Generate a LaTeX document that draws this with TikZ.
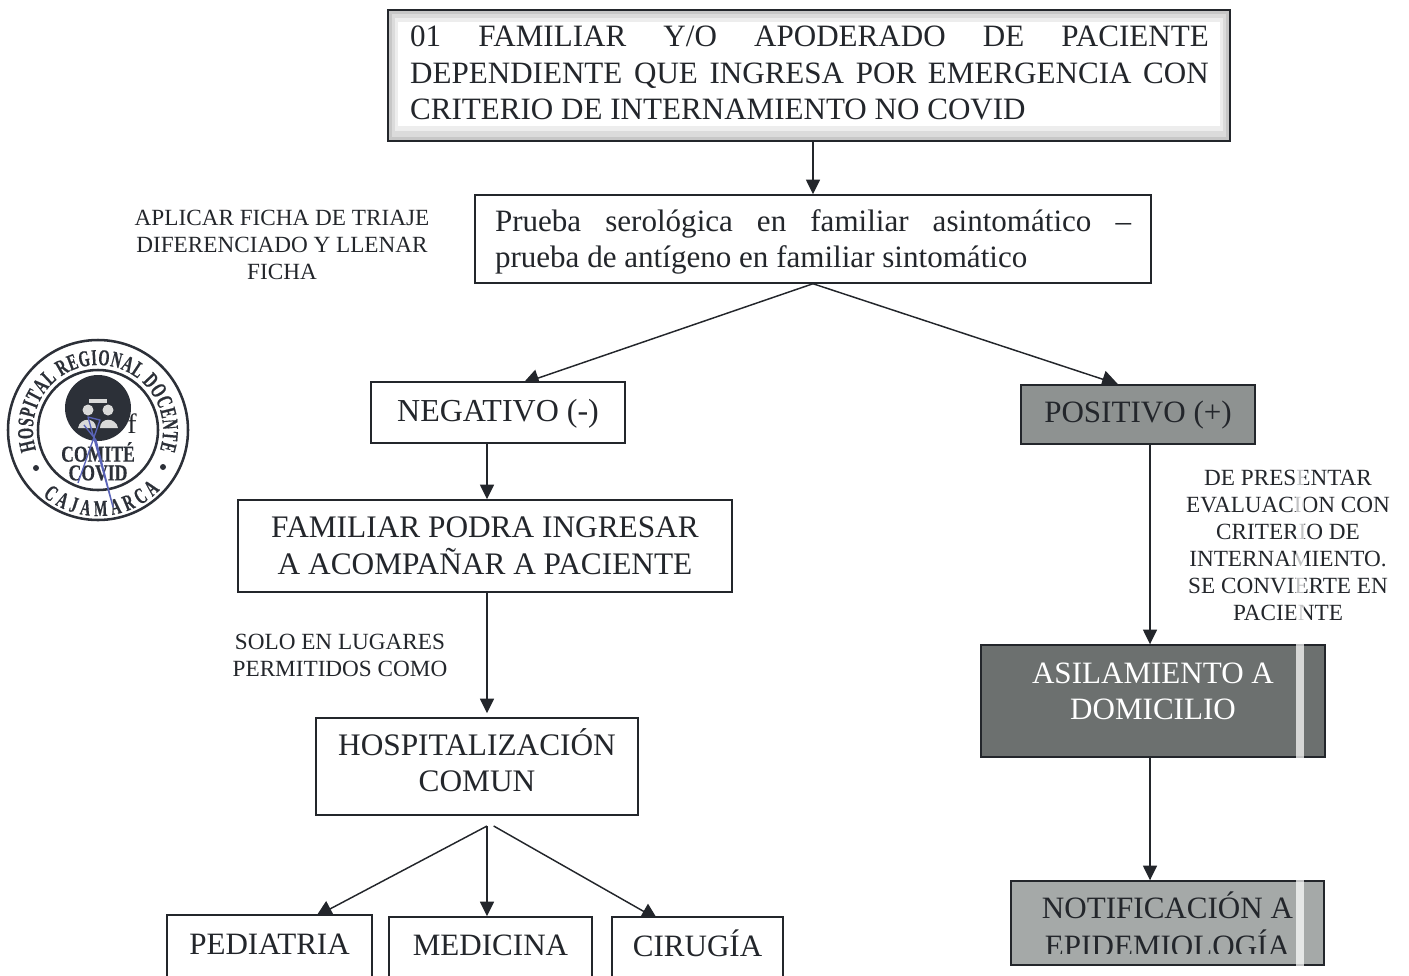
\documentclass[tikz,border=0pt]{standalone}
\usepackage{fontspec}
\setmainfont{Liberation Serif}
\newfontfamily\stampfont[FakeStretch=0.63,FakeBold=0.5]{Liberation Serif Bold}
\newfontfamily\stampwide[FakeStretch=0.78,FakeBold=0.3]{Liberation Serif Bold}
\usetikzlibrary{arrows.meta,backgrounds,decorations.text}
\definecolor{ink}{HTML}{23262B}
\definecolor{gposi}{HTML}{8E9291}
\definecolor{gasil}{HTML}{6C706F}
\definecolor{gnoti}{HTML}{A5A9A8}
\definecolor{stampink}{HTML}{2C3038}
\definecolor{scrib}{HTML}{5A64B8}
\tikzset{
  x=0.75pt,y=-0.75pt,
  box/.style={draw=ink,line width=1.1pt,fill=white,text=ink,inner sep=0pt,align=center,font=\fontsize{23.3}{27}\selectfont},
  note/.style={text=ink,inner sep=0pt,align=center,font=\fontsize{17.4}{20.2}\selectfont},
  arr/.style={draw=ink,line width=1.1pt,-{Triangle[length=11pt,width=10.5pt]}},
  slant/.style={draw=ink,line width=1.1pt,-{Triangle[length=12pt,width=13pt]}},
}
% text of a box, centred on the node and moved down by #1 picture pixels
\newcommand{\tx}[2]{\raisebox{\dimexpr-8pt-#1\dimexpr0.75pt\relax\relax}[0pt][0pt]{\begin{tabular}{@{}c@{}}#2\end{tabular}}}
\begin{document}
\begin{tikzpicture}
\clip (0,0) rectangle (1409,975);

% top box, shaded edge
\node[box,fill=black!22,minimum width=631.5pt,minimum height=98pt] (top) at (809,75.5) {};
\fill[black!14] (392,14) rectangle (1226,137);
\fill[black!7] (395,18) rectangle (1223,131);
\fill[white] (398,22) rectangle (1220,126);
\node[text=ink,inner sep=0pt,align=left,font=\fontsize{23.3}{27.2}\selectfont] (toptext) at (809.5,73)
 {\makebox[599pt][s]{01 FAMILIAR Y/O APODERADO DE PACIENTE}\\
  \makebox[599pt][s]{DEPENDIENTE QUE INGRESA POR EMERGENCIA CON}\\
  \makebox[599pt][l]{CRITERIO DE INTERNAMIENTO NO COVID}};

\node[box,minimum width=507pt,minimum height=66pt] (sero) at (813,239)
 {\tx{1}{\makebox[477pt][s]{Prueba serológica en familiar asintomático --}\\
  \makebox[477pt][l]{prueba de antígeno en familiar sintomático}}};

\node[note] (aplicar) at (282,245) {APLICAR FICHA DE TRIAJE\\DIFERENCIADO Y LLENAR\\FICHA};

\node[box,minimum width=190.5pt,minimum height=45.75pt,font=\fontsize{24}{27}\selectfont] (neg) at (498,412.5) {\tx{-1}{NEGATIVO (-)}};
\node[box,fill=gposi,minimum width=175.5pt,minimum height=44.25pt] (pos) at (1138,414.5) {\tx{-2}{POSITIVO (+)}};
\node[box,minimum width=370.5pt,minimum height=69pt,font=\fontsize{23.5}{27}\selectfont] (fam) at (485,546) {\tx{0}{FAMILIAR PODRA INGRESAR\\A ACOMPAÑAR A PACIENTE}};
\node[note] (solo) at (340,655.5) {SOLO EN LUGARES\\PERMITIDOS COMO};
\node[box,minimum width=241.5pt,minimum height=72.75pt,font=\fontsize{23.5}{27}\selectfont] (hosp) at (477,766.5) {\tx{-3.5}{HOSPITALIZACIÓN\\COMUN}};

\node[note] (depres) at (1288,545.5) {DE PRESENTAR\\EVALUACION CON\\CRITERIO DE\\INTERNAMIENTO.\\SE CONVIERTE EN\\PACIENTE};
\node[box,fill=gasil,text=white,minimum width=258pt,minimum height=84pt] (asil) at (1153,701) {\tx{-9.5}{ASILAMIENTO A\\DOMICILIO}};
\node[box,fill=gnoti,minimum width=234.75pt,minimum height=63pt] (noti) at (1167.5,923) {\tx{4}{NOTIFICACIÓN A\\EPIDEMIOLOGÍA}};
\fill[gnoti] (1013,953.5) rectangle (1322,963);

\node[box,minimum width=153.75pt,minimum height=48pt] (ped) at (269.5,947) {\tx{-2.5}{PEDIATRIA}};
\node[box,minimum width=152.25pt,minimum height=48pt] (med) at (490.5,949) {\tx{-3.5}{MEDICINA}};
\node[box,minimum width=128.25pt,minimum height=48pt] (cir) at (697.5,949) {\tx{-3}{CIRUGÍA}};

\coordinate (axl) at (487,0);
\coordinate (axr) at (1150,0);
\coordinate (fork) at (487,826);

\begin{scope}[on background layer]
\draw[arr] (top.south -| sero.north) -- (sero.north);
\draw[slant] (sero.south) -- ([xshift=18.75pt,yshift=-1.5pt]neg.north);
\draw[slant] (sero.south) -- ([xshift=-15pt]pos.north);
\draw[arr] (neg.south -| axl) -- (fam.north -| axl);
\draw[arr] (fam.south -| axl) -- ([yshift=3pt]hosp.north -| axl);
\draw[slant] (fork) -- ([xshift=35pt,yshift=-1.5pt]ped.north);
\draw[arr] (fork) -- (med.north -| axl);
\draw[slant] ([xshift=5]fork) -- ([xshift=-30pt,yshift=-2.25pt]cir.north);
\draw[arr] (pos.south -| axr) -- (asil.north -| axr);
\draw[arr] (asil.south -| axr) -- (noti.north -| axr);
\end{scope}

% scan strip
\fill[white,opacity=.72] (1296,0) rectangle (1304,975);

% stamp
\begin{scope}[shift={(98,430)},x=0.75pt,y=0.75pt]
 \draw[stampink,line width=1.9pt] (0,0) circle (90);
 \draw[stampink,line width=1.9pt] (0,0) circle (60);
 \fill[stampink] (0,22) circle (33);
 \fill[black!15] (-10,20) circle (5.5);
 \fill[black!15] (10,20) circle (5.5);
 \fill[black!15] (-20,2) .. controls (-18,13) and (-2,13) .. (-2,2) -- cycle;
 \fill[black!15] (2,2) .. controls (2,13) and (18,13) .. (20,2) -- cycle;
 \fill[black!15] (-9,31) rectangle (9,27);
 \fill[stampink] (-62,-38) circle (3);
 \fill[stampink] (65,-37) circle (3);
 \path[decorate,decoration={text along path,text align=fit to path,
   text={|\stampfont\fontsize{17}{17}\selectfont\color{stampink}|HOSPITAL REGIONAL DOCENTE}}]
   (198:65) arc (198:-18:65);
 \path[decorate,decoration={text along path,text align=fit to path,
   text={|\stampfont\fontsize{17}{17}\selectfont\color{stampink}|CAJAMARCA}}]
   (230:86) arc (230:316:86);
\end{scope}
\node[text=stampink,inner sep=0pt,font=\stampwide\fontsize{17}{17}\selectfont] (comite) at (98,452) {COMITÉ};
\node[text=stampink,inner sep=0pt,font=\stampwide\fontsize{17}{17}\selectfont] (covid) at (98,473) {COVID};
\node[text=ink,inner sep=0pt,font=\fontsize{21}{21}\selectfont] (ef) at (132,424) {f};
\draw[scrib,line width=1pt,line join=round] (78,483) -- (100,420) -- (88,417) -- (113,507) -- (96,440) -- (84,425);
\end{tikzpicture}
\end{document}
